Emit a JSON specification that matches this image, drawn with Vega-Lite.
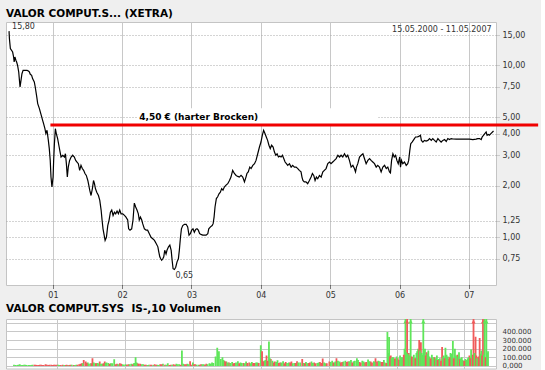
{
"$schema": "https://vega.github.io/schema/vega-lite/v6.json",
"background": "#efefef",
"padding": {"left": 5, "top": 8, "right": 0, "bottom": 0},
"bounds": "flush",
"spacing": 34,
"resolve": {"scale": {"y": "independent", "color": "independent"}, "axis": {"y": "independent"}},
"config": {
  "view": {"stroke": "#c4c4c4", "fill": "#ffffff"},
  "font": "DejaVu Sans",
  "locale": {"number": {"decimal": ",", "thousands": ".", "grouping": [3], "currency": ["", " €"]}},
  "axis": {"labelFont": "DejaVu Sans", "labelFontSize": 8, "labelColor": "#333333", "domain": false}
},
"datasets": {
"price": [
{"d":"2000-05-15","c":15.8},{"d":"2000-05-17","c":14.3},{"d":"2000-05-22","c":12.5},{"d":"2000-06-03","c":11.95},{"d":"2000-06-08","c":11.18},{"d":"2000-06-11","c":10.45},{"d":"2000-06-15","c":11.18},{"d":"2000-06-20","c":10.7},{"d":"2000-06-24","c":10.45},{"d":"2000-06-29","c":10.0},
{"d":"2000-07-05","c":9.15},{"d":"2000-07-08","c":8.37},{"d":"2000-07-12","c":7.48},{"d":"2000-07-17","c":8.18},{"d":"2000-07-22","c":8.94},{"d":"2000-07-28","c":9.35},{"d":"2000-08-07","c":9.35},{"d":"2000-08-18","c":9.35},{"d":"2000-08-25","c":9.27},{"d":"2000-08-30","c":9.15},
{"d":"2000-09-04","c":8.87},{"d":"2000-09-11","c":8.75},{"d":"2000-09-16","c":8.37},{"d":"2000-09-25","c":8.0},{"d":"2000-09-30","c":7.48},{"d":"2000-10-08","c":6.55},{"d":"2000-10-13","c":5.99},{"d":"2000-10-22","c":5.6},{"d":"2000-10-27","c":5.35},{"d":"2000-11-03","c":5.01},
{"d":"2000-11-08","c":4.79},{"d":"2000-11-13","c":4.58},{"d":"2000-11-20","c":4.28},{"d":"2000-11-25","c":4.01},{"d":"2000-12-01","c":4.19},{"d":"2000-12-08","c":3.66},{"d":"2000-12-13","c":3.28},{"d":"2000-12-18","c":2.8},{"d":"2000-12-22","c":2.24},{"d":"2000-12-27","c":1.96},
{"d":"2001-01-02","c":2.24},{"d":"2001-01-05","c":2.8},{"d":"2001-01-09","c":3.5},{"d":"2001-01-14","c":4.28},{"d":"2001-01-19","c":4.01},{"d":"2001-01-26","c":3.75},{"d":"2001-02-03","c":3.35},{"d":"2001-02-08","c":3.13},{"d":"2001-02-13","c":2.93},{"d":"2001-02-22","c":3.0},
{"d":"2001-03-03","c":2.93},{"d":"2001-03-08","c":3.06},{"d":"2001-03-13","c":2.68},{"d":"2001-03-18","c":2.24},{"d":"2001-03-23","c":2.56},{"d":"2001-03-30","c":2.8},{"d":"2001-04-07","c":2.93},{"d":"2001-04-15","c":3.0},{"d":"2001-04-24","c":2.93},{"d":"2001-05-01","c":2.8},
{"d":"2001-05-08","c":2.74},{"d":"2001-05-15","c":2.68},{"d":"2001-05-22","c":2.45},{"d":"2001-05-29","c":2.62},{"d":"2001-06-05","c":2.51},{"d":"2001-06-12","c":2.45},{"d":"2001-06-19","c":2.35},{"d":"2001-06-26","c":2.29},{"d":"2001-07-04","c":2.14},{"d":"2001-07-09","c":2.01},
{"d":"2001-07-14","c":1.88},{"d":"2001-07-21","c":1.75},{"d":"2001-07-28","c":1.92},{"d":"2001-08-03","c":2.14},{"d":"2001-08-08","c":2.05},{"d":"2001-08-13","c":1.92},{"d":"2001-08-20","c":1.83},{"d":"2001-08-29","c":1.75},{"d":"2001-09-05","c":1.64},{"d":"2001-09-12","c":1.44},
{"d":"2001-09-17","c":1.26},{"d":"2001-09-22","c":1.12},{"d":"2001-09-28","c":1.03},{"d":"2001-10-03","c":0.96},{"d":"2001-10-10","c":1.0},{"d":"2001-10-17","c":1.17},{"d":"2001-10-24","c":1.26},{"d":"2001-10-31","c":1.4},{"d":"2001-11-07","c":1.44},{"d":"2001-11-14","c":1.34},
{"d":"2001-11-21","c":1.4},{"d":"2001-11-28","c":1.37},{"d":"2001-12-05","c":1.42},{"d":"2001-12-12","c":1.37},{"d":"2001-12-19","c":1.44},{"d":"2001-12-26","c":1.37},{"d":"2002-01-04","c":1.37},{"d":"2002-01-13","c":1.34},{"d":"2002-01-21","c":1.31},{"d":"2002-01-30","c":1.26},
{"d":"2002-02-04","c":1.12},{"d":"2002-02-11","c":1.1},{"d":"2002-02-20","c":1.12},{"d":"2002-02-27","c":1.26},{"d":"2002-03-03","c":1.44},{"d":"2002-03-06","c":1.58},{"d":"2002-03-13","c":1.5},{"d":"2002-03-20","c":1.44},{"d":"2002-03-27","c":1.37},{"d":"2002-04-01","c":1.26},
{"d":"2002-04-07","c":1.31},{"d":"2002-04-14","c":1.26},{"d":"2002-04-19","c":1.2},{"d":"2002-04-28","c":1.12},{"d":"2002-05-07","c":1.1},{"d":"2002-05-15","c":1.1},{"d":"2002-05-24","c":1.05},{"d":"2002-06-02","c":1.0},{"d":"2002-06-11","c":0.98},{"d":"2002-06-20","c":0.96},
{"d":"2002-06-29","c":0.92},{"d":"2002-07-08","c":0.88},{"d":"2002-07-13","c":0.82},{"d":"2002-07-18","c":0.77},{"d":"2002-07-23","c":0.75},{"d":"2002-07-28","c":0.735},{"d":"2002-08-03","c":0.75},{"d":"2002-08-08","c":0.77},{"d":"2002-08-13","c":0.84},{"d":"2002-08-20","c":0.8},
{"d":"2002-08-25","c":0.84},{"d":"2002-09-02","c":0.88},{"d":"2002-09-09","c":0.9},{"d":"2002-09-16","c":0.84},{"d":"2002-09-21","c":0.735},{"d":"2002-09-26","c":0.657},{"d":"2002-10-03","c":0.65},{"d":"2002-10-10","c":0.67},{"d":"2002-10-17","c":0.72},{"d":"2002-10-24","c":0.75},
{"d":"2002-10-29","c":0.84},{"d":"2002-11-04","c":1.0},{"d":"2002-11-09","c":1.12},{"d":"2002-11-16","c":1.17},{"d":"2002-11-25","c":1.19},{"d":"2002-12-04","c":1.19},{"d":"2002-12-12","c":1.15},{"d":"2002-12-19","c":1.03},{"d":"2002-12-26","c":1.05},{"d":"2003-01-02","c":1.1},
{"d":"2003-01-09","c":1.12},{"d":"2003-01-16","c":1.07},{"d":"2003-01-23","c":1.11},{"d":"2003-01-30","c":1.12},{"d":"2003-02-06","c":1.1},{"d":"2003-02-13","c":1.05},{"d":"2003-02-20","c":1.04},{"d":"2003-03-01","c":1.03},{"d":"2003-03-10","c":1.03},{"d":"2003-03-19","c":1.03},
{"d":"2003-03-28","c":1.05},{"d":"2003-04-02","c":1.12},{"d":"2003-04-11","c":1.15},{"d":"2003-04-20","c":1.17},{"d":"2003-04-25","c":1.2},{"d":"2003-04-30","c":1.31},{"d":"2003-05-05","c":1.5},{"d":"2003-05-12","c":1.68},{"d":"2003-05-19","c":1.72},{"d":"2003-05-26","c":1.79},
{"d":"2003-06-02","c":1.83},{"d":"2003-06-09","c":1.92},{"d":"2003-06-16","c":1.88},{"d":"2003-06-23","c":1.96},{"d":"2003-07-02","c":2.01},{"d":"2003-07-11","c":2.05},{"d":"2003-07-20","c":2.14},{"d":"2003-07-28","c":2.24},{"d":"2003-08-06","c":2.45},{"d":"2003-08-15","c":2.35},
{"d":"2003-08-24","c":2.29},{"d":"2003-09-02","c":2.26},{"d":"2003-09-10","c":2.24},{"d":"2003-09-19","c":2.29},{"d":"2003-09-28","c":2.24},{"d":"2003-10-07","c":2.1},{"d":"2003-10-15","c":2.24},{"d":"2003-10-20","c":2.35},{"d":"2003-10-27","c":2.4},{"d":"2003-11-04","c":2.56},
{"d":"2003-11-11","c":2.51},{"d":"2003-11-20","c":2.62},{"d":"2003-11-29","c":2.68},{"d":"2003-12-07","c":2.8},{"d":"2003-12-16","c":3.06},{"d":"2003-12-25","c":3.35},{"d":"2004-01-02","c":3.58},{"d":"2004-01-09","c":3.92},{"d":"2004-01-16","c":4.19},{"d":"2004-01-23","c":4.01},
{"d":"2004-01-30","c":3.83},{"d":"2004-02-06","c":3.66},{"d":"2004-02-13","c":3.43},{"d":"2004-02-20","c":3.28},{"d":"2004-02-27","c":3.43},{"d":"2004-03-06","c":3.35},{"d":"2004-03-13","c":3.13},{"d":"2004-03-20","c":3.0},{"d":"2004-03-27","c":3.06},{"d":"2004-04-03","c":2.93},
{"d":"2004-04-10","c":2.96},{"d":"2004-04-17","c":2.93},{"d":"2004-04-24","c":3.0},{"d":"2004-05-01","c":2.87},{"d":"2004-05-08","c":2.74},{"d":"2004-05-15","c":2.68},{"d":"2004-05-22","c":2.62},{"d":"2004-05-31","c":2.68},{"d":"2004-06-09","c":2.56},{"d":"2004-06-17","c":2.62},
{"d":"2004-06-26","c":2.56},{"d":"2004-07-05","c":2.56},{"d":"2004-07-14","c":2.51},{"d":"2004-07-22","c":2.45},{"d":"2004-07-31","c":2.4},{"d":"2004-08-05","c":2.24},{"d":"2004-08-10","c":2.14},{"d":"2004-08-17","c":2.1},{"d":"2004-08-26","c":2.1},{"d":"2004-09-04","c":2.05},
{"d":"2004-09-13","c":2.14},{"d":"2004-09-22","c":2.24},{"d":"2004-09-29","c":2.35},{"d":"2004-10-06","c":2.29},{"d":"2004-10-13","c":2.14},{"d":"2004-10-20","c":2.24},{"d":"2004-10-27","c":2.19},{"d":"2004-11-05","c":2.29},{"d":"2004-11-14","c":2.24},{"d":"2004-11-23","c":2.4},
{"d":"2004-12-01","c":2.45},{"d":"2004-12-10","c":2.51},{"d":"2004-12-19","c":2.68},{"d":"2004-12-28","c":2.74},{"d":"2005-01-05","c":2.68},{"d":"2005-01-14","c":2.74},{"d":"2005-01-23","c":2.8},{"d":"2005-02-01","c":2.87},{"d":"2005-02-10","c":3.0},{"d":"2005-02-19","c":2.93},
{"d":"2005-02-27","c":3.0},{"d":"2005-03-08","c":2.93},{"d":"2005-03-17","c":3.06},{"d":"2005-03-26","c":2.93},{"d":"2005-04-03","c":3.0},{"d":"2005-04-12","c":2.8},{"d":"2005-04-21","c":2.56},{"d":"2005-04-30","c":2.62},{"d":"2005-05-08","c":2.51},{"d":"2005-05-14","c":2.4},
{"d":"2005-05-19","c":2.56},{"d":"2005-05-26","c":2.68},{"d":"2005-06-04","c":2.93},{"d":"2005-06-13","c":3.0},{"d":"2005-06-22","c":3.06},{"d":"2005-06-30","c":2.87},{"d":"2005-07-09","c":2.68},{"d":"2005-07-18","c":2.8},{"d":"2005-07-27","c":2.87},{"d":"2005-08-04","c":2.8},
{"d":"2005-08-13","c":2.74},{"d":"2005-08-22","c":2.68},{"d":"2005-08-31","c":2.56},{"d":"2005-09-08","c":2.62},{"d":"2005-09-17","c":2.56},{"d":"2005-09-26","c":2.4},{"d":"2005-10-05","c":2.56},{"d":"2005-10-14","c":2.62},{"d":"2005-10-23","c":2.51},{"d":"2005-10-31","c":2.56},
{"d":"2005-11-09","c":2.4},{"d":"2005-11-14","c":2.37},{"d":"2005-11-20","c":2.8},{"d":"2005-11-27","c":3.06},{"d":"2005-12-04","c":2.93},{"d":"2005-12-11","c":3.0},{"d":"2005-12-18","c":2.8},{"d":"2005-12-25","c":2.68},{"d":"2006-01-02","c":2.93},{"d":"2006-01-06","c":2.56},
{"d":"2006-01-11","c":2.8},{"d":"2006-01-18","c":2.68},{"d":"2006-01-27","c":2.74},{"d":"2006-02-05","c":2.62},{"d":"2006-02-13","c":2.68},{"d":"2006-02-18","c":2.8},{"d":"2006-02-24","c":3.2},{"d":"2006-03-01","c":3.5},{"d":"2006-03-08","c":3.58},{"d":"2006-03-17","c":3.7},
{"d":"2006-03-26","c":3.83},{"d":"2006-04-04","c":3.83},{"d":"2006-04-12","c":3.86},{"d":"2006-04-21","c":3.92},{"d":"2006-04-26","c":3.66},{"d":"2006-05-04","c":3.58},{"d":"2006-05-12","c":3.66},{"d":"2006-05-21","c":3.63},{"d":"2006-05-30","c":3.66},{"d":"2006-06-08","c":3.75},
{"d":"2006-06-17","c":3.66},{"d":"2006-06-25","c":3.75},{"d":"2006-07-04","c":3.66},{"d":"2006-07-13","c":3.58},{"d":"2006-07-22","c":3.75},{"d":"2006-07-30","c":3.66},{"d":"2006-08-08","c":3.58},{"d":"2006-08-17","c":3.66},{"d":"2006-08-26","c":3.7},{"d":"2006-09-04","c":3.61},
{"d":"2006-09-12","c":3.75},{"d":"2006-09-21","c":3.7},{"d":"2006-09-30","c":3.75},{"d":"2006-10-09","c":3.73},{"d":"2006-10-27","c":3.72},{"d":"2006-11-13","c":3.72},{"d":"2006-12-01","c":3.72},{"d":"2006-12-18","c":3.72},{"d":"2007-01-04","c":3.72},{"d":"2007-01-22","c":3.7},
{"d":"2007-02-08","c":3.72},{"d":"2007-02-17","c":3.75},{"d":"2007-02-26","c":3.75},{"d":"2007-03-07","c":3.7},{"d":"2007-03-12","c":3.83},{"d":"2007-03-19","c":3.92},{"d":"2007-03-26","c":4.01},{"d":"2007-04-02","c":4.1},{"d":"2007-04-07","c":3.92},{"d":"2007-04-14","c":3.96},
{"d":"2007-04-19","c":3.92},{"d":"2007-04-27","c":4.01},{"d":"2007-05-11","c":4.15}
],
"volume": [
{"d":"2000-05-15","v":15000,"s":"up"},{"d":"2000-06-01","v":12000,"s":"up"},{"d":"2000-06-15","v":18000,"s":"up"},{"d":"2000-07-01","v":12000,"s":"up"},{"d":"2000-07-15","v":15000,"s":"up"},{"d":"2000-08-01","v":10000,"s":"up"},{"d":"2000-08-15","v":12000,"s":"up"},{"d":"2000-09-01","v":15000,"s":"dn"},{"d":"2000-09-15","v":12000,"s":"dn"},{"d":"2000-10-01","v":15000,"s":"dn"},{"d":"2000-10-15","v":12000,"s":"dn"},{"d":"2000-11-01","v":18000,"s":"dn"},{"d":"2000-11-15","v":12000,"s":"dn"},{"d":"2000-12-01","v":15000,"s":"dn"},{"d":"2000-12-15","v":14000,"s":"dn"},
{"d":"2000-05-22","v":12000,"s":"up"},{"d":"2000-06-08","v":14000,"s":"up"},{"d":"2000-06-22","v":11000,"s":"up"},{"d":"2000-07-08","v":13000,"s":"up"},{"d":"2000-07-22","v":12000,"s":"up"},{"d":"2000-08-08","v":11000,"s":"up"},{"d":"2000-08-22","v":14000,"s":"up"},{"d":"2000-09-08","v":13000,"s":"dn"},{"d":"2000-09-22","v":11000,"s":"dn"},{"d":"2000-10-08","v":14000,"s":"dn"},{"d":"2000-10-22","v":12000,"s":"dn"},{"d":"2000-11-08","v":13000,"s":"dn"},{"d":"2000-11-22","v":15000,"s":"dn"},{"d":"2000-12-08","v":12000,"s":"dn"},{"d":"2000-12-22","v":14000,"s":"dn"},
{"d":"2001-01-01","v":15000,"s":"dn"},{"d":"2001-01-15","v":12000,"s":"up"},{"d":"2001-02-01","v":15000,"s":"dn"},{"d":"2001-02-15","v":10000,"s":"dn"},{"d":"2001-03-01","v":12000,"s":"up"},{"d":"2001-03-15","v":15000,"s":"dn"},{"d":"2001-04-01","v":12000,"s":"dn"},{"d":"2001-04-15","v":15000,"s":"up"},{"d":"2001-05-01","v":20000,"s":"dn"},{"d":"2001-05-15","v":30000,"s":"dn"},{"d":"2001-05-25","v":70000,"s":"dn"},{"d":"2001-06-05","v":50000,"s":"dn"},{"d":"2001-06-16","v":40000,"s":"up"},{"d":"2001-07-01","v":30000,"s":"up"},{"d":"2001-07-11","v":90000,"s":"dn"},{"d":"2001-07-25","v":30000,"s":"up"},{"d":"2001-08-05","v":35000,"s":"up"},{"d":"2001-08-19","v":50000,"s":"dn"},{"d":"2001-09-01","v":25000,"s":"up"},{"d":"2001-09-15","v":50000,"s":"dn"},{"d":"2001-09-25","v":40000,"s":"up"},{"d":"2001-10-04","v":35000,"s":"up"},{"d":"2001-10-18","v":30000,"s":"up"},{"d":"2001-11-05","v":78000,"s":"up"},{"d":"2001-11-20","v":25000,"s":"dn"},{"d":"2001-12-05","v":30000,"s":"dn"},{"d":"2001-12-20","v":20000,"s":"up"},
{"d":"2001-01-08","v":14000,"s":"up"},{"d":"2001-01-22","v":12000,"s":"dn"},{"d":"2001-02-08","v":11000,"s":"up"},{"d":"2001-02-22","v":13000,"s":"dn"},{"d":"2001-03-08","v":12000,"s":"dn"},{"d":"2001-03-22","v":14000,"s":"up"},{"d":"2001-04-08","v":12000,"s":"up"},{"d":"2001-04-22","v":15000,"s":"dn"},{"d":"2001-05-08","v":25000,"s":"dn"},{"d":"2001-05-20","v":30000,"s":"up"},{"d":"2001-06-10","v":35000,"s":"dn"},{"d":"2001-06-22","v":25000,"s":"up"},{"d":"2001-07-06","v":30000,"s":"dn"},{"d":"2001-07-18","v":40000,"s":"up"},{"d":"2001-07-30","v":30000,"s":"dn"},{"d":"2001-08-12","v":30000,"s":"up"},{"d":"2001-08-26","v":25000,"s":"up"},{"d":"2001-09-08","v":30000,"s":"dn"},{"d":"2001-09-20","v":35000,"s":"up"},{"d":"2001-10-11","v":25000,"s":"dn"},{"d":"2001-10-25","v":30000,"s":"up"},{"d":"2001-11-12","v":20000,"s":"dn"},{"d":"2001-11-27","v":20000,"s":"up"},{"d":"2001-12-12","v":25000,"s":"dn"},{"d":"2001-12-27","v":15000,"s":"up"},
{"d":"2002-01-05","v":20000,"s":"up"},{"d":"2002-01-20","v":20000,"s":"dn"},{"d":"2002-02-05","v":25000,"s":"up"},{"d":"2002-02-18","v":30000,"s":"up"},{"d":"2002-02-28","v":100000,"s":"up"},{"d":"2002-03-10","v":30000,"s":"dn"},{"d":"2002-03-25","v":25000,"s":"dn"},{"d":"2002-04-10","v":20000,"s":"up"},{"d":"2002-04-25","v":15000,"s":"dn"},{"d":"2002-05-10","v":15000,"s":"up"},{"d":"2002-05-25","v":15000,"s":"dn"},{"d":"2002-06-10","v":20000,"s":"dn"},{"d":"2002-06-25","v":15000,"s":"up"},{"d":"2002-07-10","v":20000,"s":"dn"},{"d":"2002-07-25","v":25000,"s":"up"},{"d":"2002-08-05","v":15000,"s":"dn"},{"d":"2002-08-20","v":30000,"s":"up"},{"d":"2002-09-05","v":15000,"s":"dn"},{"d":"2002-09-20","v":20000,"s":"dn"},{"d":"2002-10-05","v":25000,"s":"up"},{"d":"2002-10-20","v":20000,"s":"up"},{"d":"2002-11-04","v":180000,"s":"up"},{"d":"2002-11-18","v":20000,"s":"dn"},{"d":"2002-12-03","v":25000,"s":"up"},{"d":"2002-12-18","v":55000,"s":"dn"},
{"d":"2002-01-12","v":15000,"s":"dn"},{"d":"2002-01-27","v":18000,"s":"up"},{"d":"2002-02-12","v":20000,"s":"dn"},{"d":"2002-02-23","v":35000,"s":"up"},{"d":"2002-03-05","v":40000,"s":"up"},{"d":"2002-03-17","v":25000,"s":"dn"},{"d":"2002-04-03","v":18000,"s":"up"},{"d":"2002-04-18","v":15000,"s":"dn"},{"d":"2002-05-03","v":12000,"s":"up"},{"d":"2002-05-18","v":14000,"s":"dn"},{"d":"2002-06-03","v":12000,"s":"up"},{"d":"2002-06-18","v":15000,"s":"dn"},{"d":"2002-07-03","v":12000,"s":"up"},{"d":"2002-07-18","v":18000,"s":"dn"},{"d":"2002-08-12","v":14000,"s":"up"},{"d":"2002-08-28","v":12000,"s":"dn"},{"d":"2002-09-12","v":15000,"s":"up"},{"d":"2002-09-28","v":14000,"s":"dn"},{"d":"2002-10-12","v":18000,"s":"up"},{"d":"2002-10-28","v":15000,"s":"dn"},{"d":"2002-11-11","v":25000,"s":"up"},{"d":"2002-11-26","v":20000,"s":"dn"},{"d":"2002-12-10","v":20000,"s":"up"},{"d":"2002-12-26","v":15000,"s":"dn"},
{"d":"2003-01-02","v":40000,"s":"up"},{"d":"2003-01-15","v":20000,"s":"dn"},{"d":"2003-02-01","v":15000,"s":"up"},{"d":"2003-02-15","v":20000,"s":"dn"},{"d":"2003-03-01","v":20000,"s":"up"},{"d":"2003-03-15","v":25000,"s":"dn"},{"d":"2003-04-01","v":30000,"s":"up"},{"d":"2003-04-15","v":40000,"s":"up"},{"d":"2003-05-04","v":110000,"s":"up"},{"d":"2003-05-13","v":210000,"s":"up"},{"d":"2003-05-22","v":170000,"s":"up"},{"d":"2003-06-01","v":80000,"s":"up"},{"d":"2003-06-10","v":100000,"s":"up"},{"d":"2003-06-20","v":60000,"s":"dn"},{"d":"2003-07-01","v":50000,"s":"up"},{"d":"2003-07-15","v":40000,"s":"dn"},{"d":"2003-08-01","v":45000,"s":"up"},{"d":"2003-08-15","v":35000,"s":"dn"},{"d":"2003-09-01","v":55000,"s":"up"},{"d":"2003-09-15","v":40000,"s":"up"},{"d":"2003-10-01","v":35000,"s":"dn"},{"d":"2003-10-15","v":50000,"s":"up"},{"d":"2003-11-01","v":40000,"s":"dn"},{"d":"2003-11-15","v":45000,"s":"up"},{"d":"2003-12-01","v":35000,"s":"dn"},{"d":"2003-12-15","v":40000,"s":"up"},
{"d":"2003-01-08","v":18000,"s":"dn"},{"d":"2003-01-22","v":15000,"s":"up"},{"d":"2003-02-08","v":15000,"s":"dn"},{"d":"2003-02-22","v":18000,"s":"up"},{"d":"2003-03-08","v":15000,"s":"dn"},{"d":"2003-03-22","v":20000,"s":"up"},{"d":"2003-04-08","v":25000,"s":"up"},{"d":"2003-04-22","v":35000,"s":"up"},{"d":"2003-06-15","v":70000,"s":"up"},{"d":"2003-06-27","v":50000,"s":"dn"},{"d":"2003-07-08","v":40000,"s":"up"},{"d":"2003-07-22","v":35000,"s":"up"},{"d":"2003-08-08","v":30000,"s":"dn"},{"d":"2003-08-22","v":40000,"s":"up"},{"d":"2003-09-08","v":30000,"s":"dn"},{"d":"2003-09-22","v":35000,"s":"up"},{"d":"2003-10-08","v":30000,"s":"up"},{"d":"2003-10-22","v":35000,"s":"dn"},{"d":"2003-11-08","v":30000,"s":"up"},{"d":"2003-11-22","v":35000,"s":"dn"},{"d":"2003-12-08","v":40000,"s":"up"},{"d":"2003-12-22","v":35000,"s":"dn"},
{"d":"2004-01-02","v":240000,"s":"up"},{"d":"2004-01-09","v":170000,"s":"dn"},{"d":"2004-01-20","v":60000,"s":"up"},{"d":"2004-02-02","v":120000,"s":"dn"},{"d":"2004-02-15","v":285000,"s":"up"},{"d":"2004-02-25","v":80000,"s":"dn"},{"d":"2004-03-05","v":60000,"s":"up"},{"d":"2004-03-18","v":50000,"s":"dn"},{"d":"2004-04-01","v":65000,"s":"up"},{"d":"2004-04-15","v":40000,"s":"dn"},{"d":"2004-05-01","v":55000,"s":"up"},{"d":"2004-05-15","v":45000,"s":"dn"},{"d":"2004-06-01","v":40000,"s":"up"},{"d":"2004-06-15","v":50000,"s":"dn"},{"d":"2004-07-01","v":35000,"s":"up"},{"d":"2004-07-15","v":55000,"s":"dn"},{"d":"2004-08-01","v":40000,"s":"up"},{"d":"2004-08-12","v":80000,"s":"dn"},{"d":"2004-09-01","v":45000,"s":"up"},{"d":"2004-09-15","v":35000,"s":"dn"},{"d":"2004-10-01","v":50000,"s":"up"},{"d":"2004-10-15","v":40000,"s":"dn"},{"d":"2004-11-01","v":35000,"s":"up"},{"d":"2004-11-15","v":45000,"s":"dn"},{"d":"2004-11-30","v":85000,"s":"dn"},{"d":"2004-12-15","v":30000,"s":"up"},
{"d":"2004-01-15","v":50000,"s":"dn"},{"d":"2004-01-27","v":70000,"s":"up"},{"d":"2004-02-08","v":60000,"s":"dn"},{"d":"2004-02-20","v":90000,"s":"up"},{"d":"2004-03-12","v":40000,"s":"dn"},{"d":"2004-03-25","v":45000,"s":"up"},{"d":"2004-04-08","v":35000,"s":"dn"},{"d":"2004-04-22","v":40000,"s":"up"},{"d":"2004-05-08","v":30000,"s":"dn"},{"d":"2004-05-22","v":35000,"s":"up"},{"d":"2004-06-08","v":40000,"s":"dn"},{"d":"2004-06-22","v":30000,"s":"up"},{"d":"2004-07-08","v":35000,"s":"dn"},{"d":"2004-07-22","v":40000,"s":"up"},{"d":"2004-08-20","v":35000,"s":"up"},{"d":"2004-08-26","v":30000,"s":"dn"},{"d":"2004-09-08","v":30000,"s":"up"},{"d":"2004-09-22","v":40000,"s":"dn"},{"d":"2004-10-08","v":35000,"s":"up"},{"d":"2004-10-22","v":30000,"s":"dn"},{"d":"2004-11-08","v":40000,"s":"up"},{"d":"2004-11-22","v":35000,"s":"dn"},{"d":"2004-12-08","v":40000,"s":"up"},{"d":"2004-12-22","v":30000,"s":"dn"},
{"d":"2005-01-05","v":50000,"s":"dn"},{"d":"2005-01-20","v":60000,"s":"up"},{"d":"2005-02-01","v":40000,"s":"up"},{"d":"2005-02-12","v":90000,"s":"dn"},{"d":"2005-03-01","v":50000,"s":"up"},{"d":"2005-03-15","v":45000,"s":"dn"},{"d":"2005-04-01","v":60000,"s":"up"},{"d":"2005-04-15","v":50000,"s":"dn"},{"d":"2005-05-01","v":70000,"s":"up"},{"d":"2005-05-15","v":55000,"s":"up"},{"d":"2005-06-02","v":90000,"s":"up"},{"d":"2005-06-15","v":45000,"s":"dn"},{"d":"2005-07-01","v":60000,"s":"up"},{"d":"2005-07-15","v":40000,"s":"dn"},{"d":"2005-08-01","v":75000,"s":"up"},{"d":"2005-08-15","v":50000,"s":"dn"},{"d":"2005-09-01","v":55000,"s":"up"},{"d":"2005-09-10","v":90000,"s":"dn"},{"d":"2005-09-25","v":60000,"s":"up"},{"d":"2005-10-10","v":45000,"s":"dn"},{"d":"2005-10-25","v":70000,"s":"up"},{"d":"2005-11-05","v":30000,"s":"dn"},{"d":"2005-11-13","v":395000,"s":"up"},{"d":"2005-11-22","v":335000,"s":"up"},{"d":"2005-12-01","v":120000,"s":"dn"},{"d":"2005-12-10","v":100000,"s":"up"},{"d":"2005-12-19","v":80000,"s":"dn"},
{"d":"2005-01-12","v":45000,"s":"up"},{"d":"2005-01-27","v":40000,"s":"dn"},{"d":"2005-02-06","v":50000,"s":"up"},{"d":"2005-02-20","v":60000,"s":"up"},{"d":"2005-03-08","v":40000,"s":"dn"},{"d":"2005-03-22","v":50000,"s":"up"},{"d":"2005-04-08","v":45000,"s":"dn"},{"d":"2005-04-22","v":55000,"s":"up"},{"d":"2005-05-08","v":40000,"s":"dn"},{"d":"2005-05-22","v":60000,"s":"up"},{"d":"2005-06-08","v":70000,"s":"up"},{"d":"2005-06-22","v":40000,"s":"dn"},{"d":"2005-07-08","v":50000,"s":"up"},{"d":"2005-07-22","v":45000,"s":"dn"},{"d":"2005-08-08","v":55000,"s":"up"},{"d":"2005-08-22","v":40000,"s":"dn"},{"d":"2005-09-05","v":45000,"s":"up"},{"d":"2005-09-18","v":50000,"s":"dn"},{"d":"2005-10-03","v":55000,"s":"up"},{"d":"2005-10-18","v":45000,"s":"dn"},{"d":"2005-10-30","v":40000,"s":"up"},{"d":"2005-11-09","v":35000,"s":"dn"},{"d":"2005-11-17","v":150000,"s":"up"},{"d":"2005-11-27","v":110000,"s":"dn"},{"d":"2005-12-05","v":90000,"s":"up"},{"d":"2005-12-14","v":100000,"s":"up"},{"d":"2005-12-24","v":90000,"s":"dn"},
{"d":"2006-01-08","v":90000,"s":"dn"},{"d":"2006-01-26","v":100000,"s":"up"},{"d":"2006-02-04","v":100000,"s":"up"},{"d":"2006-02-13","v":200000,"s":"up"},{"d":"2006-02-18","v":600000,"s":"up"},{"d":"2006-02-27","v":600000,"s":"dn"},{"d":"2006-03-08","v":150000,"s":"dn"},{"d":"2006-03-18","v":600000,"s":"up"},{"d":"2006-03-31","v":100000,"s":"up"},{"d":"2006-04-09","v":90000,"s":"dn"},{"d":"2006-04-18","v":150000,"s":"up"},{"d":"2006-04-27","v":200000,"s":"up"},{"d":"2006-05-03","v":300000,"s":"dn"},{"d":"2006-05-12","v":275000,"s":"dn"},{"d":"2006-05-19","v":130000,"s":"up"},{"d":"2006-05-25","v":600000,"s":"up"},{"d":"2006-06-03","v":200000,"s":"up"},{"d":"2006-06-12","v":160000,"s":"dn"},{"d":"2006-06-21","v":180000,"s":"up"},{"d":"2006-07-10","v":130000,"s":"up"},{"d":"2006-07-24","v":100000,"s":"dn"},{"d":"2006-08-06","v":120000,"s":"up"},{"d":"2006-08-15","v":80000,"s":"up"},{"d":"2006-09-03","v":220000,"s":"dn"},{"d":"2006-09-12","v":120000,"s":"up"},{"d":"2006-09-21","v":210000,"s":"up"},{"d":"2006-10-09","v":80000,"s":"dn"},{"d":"2006-10-18","v":150000,"s":"up"},{"d":"2006-10-31","v":290000,"s":"up"},{"d":"2006-11-11","v":200000,"s":"up"},{"d":"2006-11-24","v":130000,"s":"dn"},{"d":"2006-12-03","v":160000,"s":"up"},{"d":"2006-12-18","v":100000,"s":"up"},{"d":"2006-12-27","v":60000,"s":"dn"},
{"d":"2006-01-02","v":110000,"s":"up"},{"d":"2006-01-15","v":70000,"s":"dn"},{"d":"2006-01-20","v":120000,"s":"up"},{"d":"2006-01-31","v":90000,"s":"up"},{"d":"2006-02-09","v":130000,"s":"dn"},{"d":"2006-02-22","v":160000,"s":"up"},{"d":"2006-03-03","v":140000,"s":"up"},{"d":"2006-03-13","v":120000,"s":"up"},{"d":"2006-03-24","v":110000,"s":"dn"},{"d":"2006-04-04","v":130000,"s":"up"},{"d":"2006-04-14","v":90000,"s":"dn"},{"d":"2006-04-22","v":170000,"s":"up"},{"d":"2006-05-07","v":180000,"s":"up"},{"d":"2006-05-16","v":150000,"s":"up"},{"d":"2006-05-29","v":170000,"s":"up"},{"d":"2006-06-07","v":120000,"s":"dn"},{"d":"2006-06-16","v":140000,"s":"up"},{"d":"2006-06-26","v":110000,"s":"up"},{"d":"2006-07-03","v":90000,"s":"dn"},{"d":"2006-07-17","v":100000,"s":"up"},{"d":"2006-07-31","v":90000,"s":"up"},{"d":"2006-08-10","v":70000,"s":"dn"},{"d":"2006-08-22","v":90000,"s":"up"},{"d":"2006-08-28","v":60000,"s":"dn"},{"d":"2006-09-07","v":100000,"s":"up"},{"d":"2006-09-16","v":90000,"s":"dn"},{"d":"2006-09-27","v":130000,"s":"up"},{"d":"2006-10-04","v":110000,"s":"up"},{"d":"2006-10-13","v":100000,"s":"dn"},{"d":"2006-10-25","v":140000,"s":"up"},{"d":"2006-11-05","v":90000,"s":"dn"},{"d":"2006-11-17","v":120000,"s":"up"},{"d":"2006-11-29","v":110000,"s":"up"},{"d":"2006-12-08","v":80000,"s":"dn"},{"d":"2006-12-13","v":90000,"s":"up"},{"d":"2006-12-22","v":70000,"s":"up"},
{"d":"2007-01-06","v":80000,"s":"up"},{"d":"2007-01-19","v":90000,"s":"up"},{"d":"2007-01-28","v":120000,"s":"dn"},{"d":"2007-02-06","v":190000,"s":"up"},{"d":"2007-02-19","v":600000,"s":"dn"},{"d":"2007-03-02","v":340000,"s":"dn"},{"d":"2007-03-15","v":100000,"s":"dn"},{"d":"2007-03-24","v":325000,"s":"dn"},{"d":"2007-04-02","v":180000,"s":"up"},{"d":"2007-04-11","v":600000,"s":"dn"},{"d":"2007-04-20","v":600000,"s":"up"},{"d":"2007-04-29","v":600000,"s":"up"},{"d":"2007-05-08","v":170000,"s":"up"},
{"d":"2007-01-02","v":60000,"s":"dn"},{"d":"2007-01-12","v":70000,"s":"up"},{"d":"2007-01-24","v":100000,"s":"up"},{"d":"2007-02-01","v":90000,"s":"dn"},{"d":"2007-02-11","v":120000,"s":"up"},{"d":"2007-02-15","v":130000,"s":"dn"},{"d":"2007-02-24","v":150000,"s":"up"},{"d":"2007-03-06","v":120000,"s":"dn"},{"d":"2007-03-10","v":90000,"s":"up"},{"d":"2007-03-19","v":110000,"s":"dn"},{"d":"2007-03-29","v":140000,"s":"up"},{"d":"2007-04-06","v":120000,"s":"dn"},{"d":"2007-04-15","v":130000,"s":"up"},{"d":"2007-04-25","v":100000,"s":"dn"},{"d":"2007-05-03","v":150000,"s":"up"}
]
},
"vconcat": [
{
  "width": 490, "height": 263,
  "title": {"text": "VALOR COMPUT.S... (XETRA)", "anchor": "start", "font": "DejaVu Sans", "fontSize": 10.5, "fontWeight": "bold", "color": "#000000", "offset": 3},
  "layer": [
    {
      "data": {"values": [{}]},
      "mark": {"type": "rect", "color": "#ffffff"},
      "encoding": {
        "x": {"datum": {"year": 2002, "month": "mar", "date": 26}, "type": "temporal", "scale": {"domain": [{"year": 2000, "month": "apr", "date": 29}, {"year": 2007, "month": "may", "date": 24}], "nice": false}, "axis": {"title": null, "format": "%y", "tickCount": {"interval": "year", "step": 1}, "grid": true, "gridColor": "#c8c8c8", "tickColor": "#000000", "tickDash": [1, 1], "tickSize": 4, "labelPadding": 2}},
        "x2": {"datum": {"year": 2005, "month": "sep", "date": 10}},
        "y": {"datum": 4.5, "type": "quantitative", "scale": {"type": "log", "domain": [0.528, 17.86], "nice": false}, "axis": {"orient": "right", "title": null, "values": [0.75, 1, 1.25, 2, 3, 4, 5, 7.5, 10, 15], "tickCount": 12, "format": ".2f", "labelOverlap": false, "grid": true, "gridColor": "#a8a8a8", "gridDash": [1, 2], "tickColor": "#a8a8a8", "tickDash": [1, 1], "tickSize": 3, "labelPadding": 3}},
        "y2": {"datum": 5.62}
      }
    },
    {
      "data": {"name": "price"},
      "mark": {"type": "line", "color": "#000000", "strokeWidth": 1.2, "interpolate": "linear"},
      "encoding": {
        "x": {"field": "d", "type": "temporal"},
        "y": {"field": "c", "type": "quantitative"}
      }
    },
    {
      "data": {"values": [{}]},
      "mark": {"type": "rule", "color": "#f00000", "strokeWidth": 3},
      "encoding": {
        "x": {"datum": {"year": 2000, "month": "dec", "date": 19}, "type": "temporal"},
        "x2": {"datum": {"year": 2008, "month": "jan", "date": 1}},
        "y": {"datum": 4.5, "type": "quantitative"}
      }
    },
    {
      "data": {"values": [{}]},
      "mark": {"type": "text", "text": "4,50 € (harter Brocken)", "align": "left", "baseline": "middle", "font": "DejaVu Sans", "fontSize": 9, "fontWeight": "bold", "color": "#000000"},
      "encoding": {
        "x": {"datum": {"year": 2002, "month": "apr", "date": 1}, "type": "temporal"},
        "y": {"datum": 5.0, "type": "quantitative"}
      }
    },
    {
      "data": {"values": [{}]},
      "mark": {"type": "text", "text": "15,80", "align": "left", "baseline": "middle", "dx": 3, "dy": -4, "fontSize": 8, "color": "#333333"},
      "encoding": {
        "x": {"datum": {"year": 2000, "month": "may", "date": 15}, "type": "temporal"},
        "y": {"datum": 15.8, "type": "quantitative"}
      }
    },
    {
      "data": {"values": [{}]},
      "mark": {"type": "text", "text": "0,65", "align": "left", "baseline": "middle", "dx": 1, "dy": 7, "fontSize": 8, "color": "#333333"},
      "encoding": {
        "x": {"datum": {"year": 2002, "month": "oct", "date": 3}, "type": "temporal"},
        "y": {"datum": 0.65, "type": "quantitative"}
      }
    },
    {
      "data": {"values": [{}]},
      "mark": {"type": "text", "text": "15.05.2000 - 11.05.2007", "align": "right", "baseline": "middle", "fontSize": 8, "color": "#333333"},
      "encoding": {
        "x": {"datum": {"year": 2007, "month": "may", "date": 1}, "type": "temporal"},
        "y": {"datum": 16, "type": "quantitative"}
      }
    }
  ]
},
{
  "width": 490, "height": 49.5,
  "title": {"text": "VALOR COMPUT.SYS \u00a0IS-,10 Volumen", "anchor": "start", "font": "DejaVu Sans", "fontSize": 10.5, "fontWeight": "bold", "color": "#000000", "offset": 4},
  "data": {"name": "volume"},
  "layer": [
    {
      "mark": {"type": "bar", "size": 1.8, "clip": true},
      "encoding": {
        "x": {"field": "d", "type": "temporal", "scale": {"domain": [{"year": 2000, "month": "apr", "date": 29}, {"year": 2007, "month": "may", "date": 24}], "nice": false}, "axis": {"title": null, "labels": false, "ticks": false, "tickCount": {"interval": "year", "step": 1}, "grid": true, "gridColor": "#c8c8c8"}},
        "y": {"field": "v", "type": "quantitative", "scale": {"domain": [-30000, 545000], "nice": false, "zero": false}, "axis": {"orient": "right", "title": null, "values": [0, 100000, 200000, 300000, 400000, 500000], "tickCount": 10, "format": ",.0f", "labelExpr": "datum.value == 0 ? '0,000' : (datum.value >= 500000 ? '' : datum.label)", "labelOverlap": false, "labelFontSize": 7, "grid": true, "gridColor": "#c8c8c8", "ticks": false, "labelPadding": 6}},
        "color": {"field": "s", "type": "nominal", "scale": {"domain": ["up", "dn"], "range": ["#5fe65a", "#f05a5a"]}, "legend": null}
      }
    },
    {
      "transform": [{"filter": "datum.v > 545000"}],
      "mark": {"type": "point", "shape": "triangle-up", "filled": true, "size": 18, "opacity": 1},
      "encoding": {
        "x": {"field": "d", "type": "temporal"},
        "y": {"datum": 515000, "type": "quantitative"},
        "color": {"field": "s", "type": "nominal", "legend": null}
      }
    }
  ]
}
]
}
